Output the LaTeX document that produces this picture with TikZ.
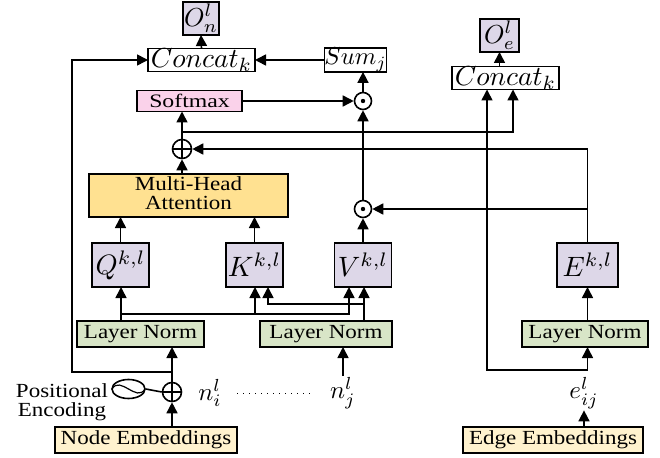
\documentclass[tikz,border=0pt]{standalone}
\usepackage{fontspec}
\setmainfont{Liberation Serif}
\usepackage{graphicx}
\usetikzlibrary{arrows.meta,shapes.geometric,calc}

\definecolor{lav}{RGB}{221,215,232}
\definecolor{pinkf}{RGB}{250,210,234}
\definecolor{yel}{RGB}{255,225,145}
\definecolor{grn}{RGB}{216,229,199}
\definecolor{cream}{RGB}{255,242,206}

% text is set slightly widened
\newcommand{\sx}[1]{\scalebox{1.15}[1]{#1}}
\newcommand{\twoline}[2]{\sx{\begin{tabular}{@{}c@{}}#1\\#2\end{tabular}}}
% enlarged math, set at 10pt and scaled
\newcommand{\mx}[2]{\scalebox{#1}{$#2$}}

\begin{document}
\begin{tikzpicture}[x=1pt,y=-1pt,line width=1.6pt,
  >={Triangle[length=11pt,width=11pt]},
  frame/.style={draw, line width=1.6pt, inner sep=0pt, outer sep=0pt},
  txt/.style={font=\fontsize{20}{17}\selectfont},
  pbox/.style={frame, fill=lav},
  cbox/.style={frame, fill=white},
  lnbox/.style={frame, fill=grn, txt, minimum width=127pt, minimum height=26pt},
  embbox/.style={frame, fill=cream, txt, minimum height=26pt},
  plus/.style={circle, draw, line width=1.6pt, minimum size=19pt, inner sep=0pt,
    path picture={\draw[line width=1.6pt]
      (path picture bounding box.north) -- (path picture bounding box.south)
      (path picture bounding box.west) -- (path picture bounding box.east);}},
  hadam/.style={circle, draw, line width=1.6pt, minimum size=17pt, inner sep=0pt,
    path picture={\fill (path picture bounding box.center) circle (2.2pt);}},
  lbl/.style={inner sep=1pt}
]
\useasboundingbox (0,0) rectangle (660,457);

% ---------- node stream outputs ----------
\node[pbox, minimum width=36pt, minimum height=33pt] (On) at (201,18.5) {\mx{2.6}{O_n^l}};
\node[cbox, minimum width=107pt, minimum height=23pt] (concatL) at (201.5,60) {\mx{2.75}{Concat_k}};
\node[cbox, minimum width=59pt, minimum height=23pt] (sum) at (355.5,60) {\mx{2.45}{Sum_j}};
\node[frame, fill=pinkf, minimum width=105pt, minimum height=21pt, font=\fontsize{19}{19}\selectfont] (softmax) at (189.5,101) {\scalebox{1.25}[1]{Softmax}};
\node[hadam] (dotT) at (363,101) {};

% ---------- edge stream outputs ----------
\node[pbox, minimum width=39pt, minimum height=33pt] (Oe) at (499.5,35.5) {\mx{2.6}{O_e^l}};
\node[cbox, minimum width=107pt, minimum height=23pt] (concatR) at (505.5,78) {\mx{2.75}{Concat_k}};

% ---------- attention ----------
\node[plus] (oplusA) at (182,149) {};
\node[frame, fill=yel, txt, minimum width=199pt, minimum height=43pt] (mha) at (188.5,195.5) {\twoline{Multi-Head}{Attention}};
\node[hadam] (dotB) at (363,209) {};

% ---------- projections ----------
\node[pbox, minimum width=57pt, minimum height=44pt] (Q) at (120.5,265) {\mx{2.8}{Q^{k,l}}};
\node[pbox, minimum width=57pt, minimum height=44pt] (K) at (254.5,265) {\mx{2.8}{K^{k,l}}};
\node[pbox, minimum width=57pt, minimum height=44pt] (V) at (363,265) {\mx{2.8}{V^{k,l}}};
\node[pbox, minimum width=61pt, minimum height=44pt] (E) at (587.5,265) {\mx{2.8}{E^{k,l}}};

% ---------- normalisation ----------
\node[lnbox] (LN1) at (140.5,334) {\sx{Layer Norm}};
\node[lnbox, minimum width=132pt] (LN2) at (326,334) {\sx{Layer Norm}};
\node[lnbox, minimum width=126pt] (LN3) at (585,334) {\sx{Layer Norm}};

% ---------- inputs ----------
\node[plus] (oplusN) at (172,392) {};
\node[ellipse, draw, line width=1.6pt, minimum width=33pt, minimum height=19pt, inner sep=0pt,
  path picture={\draw[line width=1.2pt]
    (path picture bounding box.west) .. controls ($(path picture bounding box.center)+(-8,-14)$)
    and ($(path picture bounding box.center)+(8,14)$) .. (path picture bounding box.east);}]
  (pe) at (128.5,389) {};
\node[txt, inner sep=0pt] (petext) at (62,403) {\twoline{Positional}{Encoding}};
\node[embbox, minimum width=182pt] (nodeEmb) at (146,440) {\sx{Node Embeddings}};
\node[lbl] (ni) at (210,393) {\mx{2.5}{n_i^l}};
\node[lbl] (nj) at (343,393) {\mx{2.5}{n_j^l}};
\node[lbl] (eij) at (584,393) {\mx{2.5}{e_{ij}^l}};
\node[embbox, minimum width=180pt] (edgeEmb) at (553,440) {\sx{Edge Embeddings}};

% ---------- junctions ----------
\coordinate (pL) at (172,372);
\coordinate (lc) at (72,372);
\coordinate (q1) at (121,314);
\coordinate (kq) at (255,314);
\coordinate (vq) at (349,314);
\coordinate (vx) at (364,304);
\coordinate (kx) at (268,304);
\coordinate (ab) at (182,132);
\coordinate (ar) at (513,132);
\coordinate (eb) at (587.5,209);
\coordinate (ej) at (587.5,370);
\coordinate (ec) at (487,370);

% ---------- connectors ----------
\draw[->] (oplusN.south |- nodeEmb.north) -- (oplusN.south);
\draw (pe.east) -- (oplusN.west);
\draw[->] (oplusN.north) -- (oplusN.north |- LN1.south);
\draw[->] (pL) -- (lc) |- (concatL.west);
\draw[->] (nj.north) -- (nj.north |- LN2.south);
\draw[line width=1pt, dash pattern=on 1pt off 5pt] ([xshift=14pt]ni.east) -- ([xshift=-14pt]nj.west);

\draw[->] (q1 |- LN1.north) -- (q1 |- Q.south);
\draw[->] (q1) -- (vq) -- (vq |- V.south);
\draw[->] (kq) -- (kq |- K.south);
\draw[->] (vx |- LN2.north) -- (vx |- V.south);
\draw[->] (vx) -- (kx) -- (kx |- K.south);

\draw[->] (Q.north) -- (Q.north |- mha.south);
\draw[->] (K.north) -- (K.north |- mha.south);
\draw[->] (V.north) -- (dotB.south);
\draw[->] (oplusA.south |- mha.north) -- (oplusA.south);
\draw[->] (oplusA.north) -- (oplusA.north |- softmax.south);
\draw[->] (ab) -- (ar) -- (ar |- concatR.south);
\draw[->] (softmax.east) -- (dotT.west);
\draw[->] (dotB.north) -- (dotT.south);
\draw[->] (dotT.north) -- (dotT.north |- sum.south);
\draw[->] (sum.west) -- (concatL.east);
\draw[->] (concatL.north) -- (On.south);

\draw[->] (E.north) -- (E.north |- oplusA.east) -- (oplusA.east);
\draw[->] (eb) -- (dotB.east);
\draw[->] (E.south |- LN3.north) -- (E.south);
\draw[->] (ej) -- (ej |- LN3.south);
\draw[->] (ej) -- (ec) -- (ec |- concatR.south);
\draw[->] (eij.south |- edgeEmb.north) -- (eij.south);
\draw[->] (concatR.north -| Oe.south) -- (Oe.south);
\end{tikzpicture}
\end{document}
